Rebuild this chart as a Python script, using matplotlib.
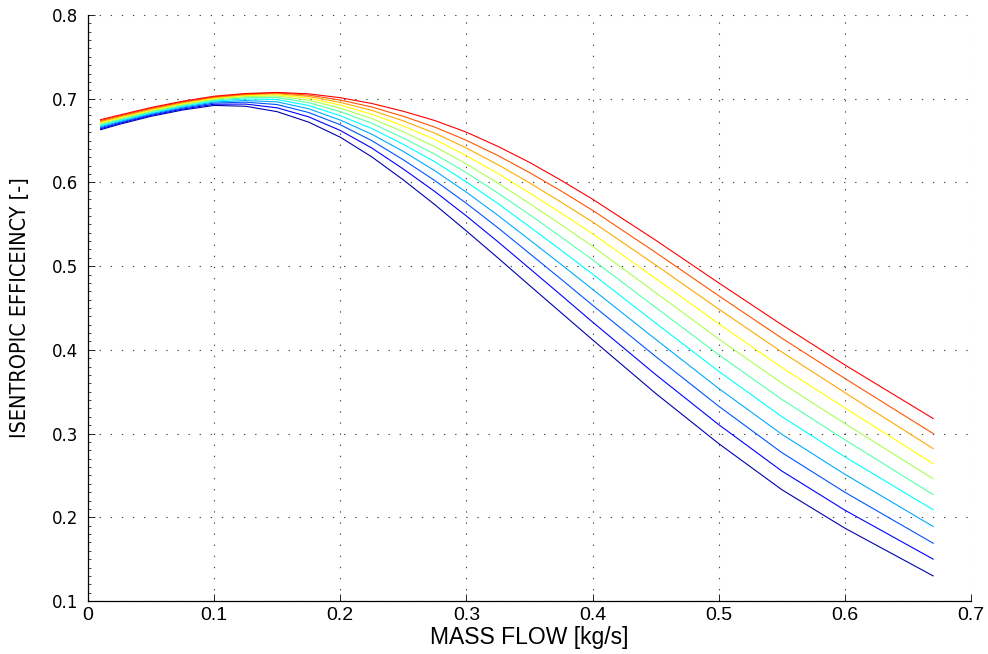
import numpy as np
import matplotlib
matplotlib.use("Agg")
import matplotlib.pyplot as plt
from matplotlib.ticker import MultipleLocator
from matplotlib import font_manager
from matplotlib.font_manager import FontProperties

# Mass flow samples [kg/s]
mass_flow = [0.01, 0.025, 0.05, 0.075, 0.10, 0.125, 0.15, 0.175, 0.20, 0.225, 0.25,
             0.275, 0.30, 0.325, 0.35, 0.375, 0.40, 0.45, 0.50, 0.55, 0.60, 0.67]

# Isentropic efficiency [-], one list per speed line (lowest to highest)
eff_01 = [0.6630, 0.6695, 0.6790, 0.6865, 0.6920, 0.6910, 0.6845, 0.6720, 0.6540, 0.6305, 0.6030,
          0.5734, 0.5420, 0.5098, 0.4770, 0.4445, 0.4120, 0.3480, 0.2880, 0.2330, 0.1870, 0.1300]
eff_02 = [0.6642, 0.6706, 0.6801, 0.6877, 0.6934, 0.6936, 0.6891, 0.6783, 0.6621, 0.6411, 0.6160,
          0.5891, 0.5599, 0.5291, 0.4973, 0.4654, 0.4332, 0.3705, 0.3107, 0.2553, 0.2085, 0.1500]
eff_03 = [0.6654, 0.6717, 0.6811, 0.6888, 0.6948, 0.6959, 0.6930, 0.6835, 0.6689, 0.6499, 0.6270,
          0.6022, 0.5750, 0.5458, 0.5152, 0.4845, 0.4533, 0.3921, 0.3327, 0.2773, 0.2299, 0.1690]
eff_04 = [0.6666, 0.6728, 0.6822, 0.6900, 0.6961, 0.6978, 0.6962, 0.6880, 0.6745, 0.6576, 0.6370,
          0.6139, 0.5883, 0.5606, 0.5315, 0.5022, 0.4723, 0.4126, 0.3539, 0.2992, 0.2514, 0.1890]
eff_05 = [0.6678, 0.6739, 0.6832, 0.6910, 0.6973, 0.6997, 0.6990, 0.6919, 0.6797, 0.6644, 0.6455,
          0.6246, 0.6006, 0.5748, 0.5471, 0.5191, 0.4905, 0.4320, 0.3744, 0.3203, 0.2722, 0.2090]
eff_06 = [0.6690, 0.6750, 0.6843, 0.6921, 0.6984, 0.7012, 0.7013, 0.6953, 0.6846, 0.6707, 0.6530,
          0.6337, 0.6116, 0.5873, 0.5615, 0.5349, 0.5076, 0.4507, 0.3942, 0.3408, 0.2927, 0.2270]
eff_07 = [0.6702, 0.6761, 0.6853, 0.6931, 0.6995, 0.7026, 0.7032, 0.6982, 0.6887, 0.6763, 0.6605,
          0.6427, 0.6220, 0.5992, 0.5749, 0.5496, 0.5237, 0.4684, 0.4130, 0.3603, 0.3120, 0.2460]
eff_08 = [0.6714, 0.6772, 0.6864, 0.6941, 0.7005, 0.7038, 0.7047, 0.7006, 0.6924, 0.6815, 0.6675,
          0.6513, 0.6319, 0.6108, 0.5875, 0.5635, 0.5387, 0.4853, 0.4312, 0.3790, 0.3307, 0.2640]
eff_09 = [0.6726, 0.6783, 0.6874, 0.6951, 0.7014, 0.7048, 0.7060, 0.7027, 0.6956, 0.6861, 0.6735,
          0.6588, 0.6411, 0.6212, 0.5995, 0.5765, 0.5528, 0.5014, 0.4487, 0.3975, 0.3489, 0.2820]
eff_10 = [0.6738, 0.6794, 0.6885, 0.6961, 0.7022, 0.7056, 0.7069, 0.7043, 0.6984, 0.6901, 0.6790,
          0.6660, 0.6503, 0.6321, 0.6118, 0.5898, 0.5667, 0.5164, 0.4646, 0.4140, 0.3658, 0.3000]
eff_11 = [0.6750, 0.6805, 0.6895, 0.6970, 0.7030, 0.7062, 0.7075, 0.7058, 0.7012, 0.6943, 0.6850,
          0.6739, 0.6600, 0.6430, 0.6240, 0.6026, 0.5800, 0.5310, 0.4800, 0.4300, 0.3820, 0.3180]

speed_lines = [eff_01, eff_02, eff_03, eff_04, eff_05, eff_06,
               eff_07, eff_08, eff_09, eff_10, eff_11]

x_ticks = [0, 0.1, 0.2, 0.3, 0.4, 0.5, 0.6, 0.7]
x_tick_labels = ["0", "0.1", "0.2", "0.3", "0.4", "0.5", "0.6", "0.7"]
y_ticks = [0.1, 0.2, 0.3, 0.4, 0.5, 0.6, 0.7, 0.8]
y_tick_labels = ["0.1", "0.2", "0.3", "0.4", "0.5", "0.6", "0.7", "0.8"]


def matlab_jet(n):
    """Discrete jet colormap built the same way as MATLAB's jet(n)."""
    m = int(np.ceil(n / 4))
    u = np.concatenate([np.arange(1, m + 1) / m, np.ones(m - 1), np.arange(m, 0, -1) / m])
    g = int(np.ceil(m / 2)) - (1 if n % 4 == 1 else 0) + np.arange(1, len(u) + 1)
    cmap = np.zeros((n, 3))
    for channel, rows in enumerate((g + m, g, g - m)):
        for idx, val in zip(rows, u):
            if 1 <= idx <= n:
                cmap[idx - 1, channel] = val
    return cmap


def narrow_font(size):
    """Pick a narrow sans face for the y label if one is installed."""
    entries = font_manager.fontManager.ttflist
    prefs = ["liberationsansnarrow-regular", "arialnarrow", "dejavusanscondensed.ttf"]
    for pref in prefs:
        for f in entries:
            if pref in f.fname.lower().replace(" ", ""):
                return FontProperties(fname=f.fname, size=size)
    return FontProperties(family="Liberation Sans", size=size * 0.86)


fig = plt.figure(figsize=(9.88, 6.54), dpi=100)
ax = fig.add_axes([88 / 988, 1 - 601 / 654, (971 - 88) / 988, (601 - 15) / 654])

colors = matlab_jet(len(speed_lines))
for eff, col in zip(speed_lines, colors):
    ax.plot(mass_flow, eff, color=col, linewidth=0.8, solid_joinstyle="round")

ax.set_xlim(0, 0.7)
ax.set_ylim(0.1, 0.8)
ax.set_xticks(x_ticks)
ax.set_xticklabels(x_tick_labels, fontfamily="Liberation Sans", fontsize=14)
ax.set_yticks(y_ticks)
ax.set_yticklabels(y_tick_labels, fontfamily="DejaVu Sans", fontsize=12)
ax.yaxis.set_minor_locator(MultipleLocator(0.01))

ax.tick_params(which="major", direction="in", length=5, width=0.6, color="black",
               top=False, right=False)
ax.tick_params(which="minor", direction="in", length=2, width=0.5, color="black",
               top=False, right=False)
ax.tick_params(axis="x", which="major", pad=4)
ax.tick_params(axis="y", which="major", pad=7)

ax.grid(True, which="major", color="#444444", linewidth=0.8, linestyle=(0, (1.2, 8.8)))

for side in ("top", "right"):
    ax.spines[side].set_visible(False)
for side in ("left", "bottom"):
    ax.spines[side].set_linewidth(0.9)
    ax.spines[side].set_color("black")

ax.set_xlabel("MASS FLOW [kg/s]", fontfamily="Liberation Sans", fontsize=16.5, labelpad=2)
ax.set_ylabel("ISENTROPIC EFFICEINCY [-]", fontproperties=narrow_font(15.5), labelpad=16)

fig.savefig("out.png", dpi=100)
